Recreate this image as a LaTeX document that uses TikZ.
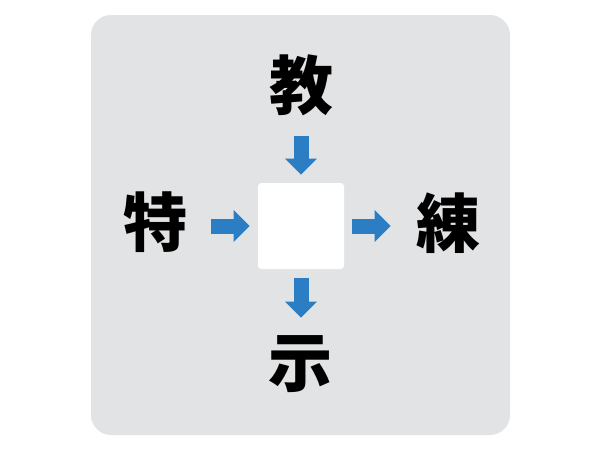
\documentclass[tikz,border=0pt]{standalone}
\usepackage{fontspec}
\newfontfamily\cjk{Noto Sans CJK JP}
\definecolor{panelgray}{RGB}{225,227,228}
\definecolor{arrowblue}{RGB}{43,126,196}
\usetikzlibrary{arrows.meta,positioning,calc}
\tikzset{
    kanji/.style={inner sep=0pt, minimum width=48pt, minimum height=48pt, font=\cjk\bfseries\fontsize{48pt}{48pt}\selectfont},
    arr/.style={draw=arrowblue, line width=11.25pt, -{Triangle[width=23.25pt, length=12pt]}}
}

\begin{document}
\begin{tikzpicture}[x=0.75pt, y=-0.75pt]
    \useasboundingbox (0,0) rectangle (600,450);
    \fill[panelgray, rounded corners=15pt] (91,15) rectangle (510,435);
    \node[fill=white, rounded corners=2.5pt, minimum size=64.5pt, inner sep=0pt] (box) at (301,226) {};
    \node[kanji] (kyo) at (301,85) {教};
    \node[kanji] (toku) at (155,222) {特};
    \node[kanji] (ren) at (448,223) {練};
    \node[kanji] (ji) at (300,364) {示};
    \draw[arr, shorten <=14.25pt, shorten >=6pt] (kyo.south -| box.north) -- (box.north);
    \draw[arr, shorten <=18pt, shorten >=6pt] (toku.east |- box.west) -- (box.west);
    \draw[arr, shorten <=6pt, shorten >=18.75pt] (box.east) -- (ren.west |- box.east);
    \draw[arr, shorten <=6.75pt, shorten >=10.5pt] (box.south) -- (ji.north -| box.south);
\end{tikzpicture}
\end{document}
